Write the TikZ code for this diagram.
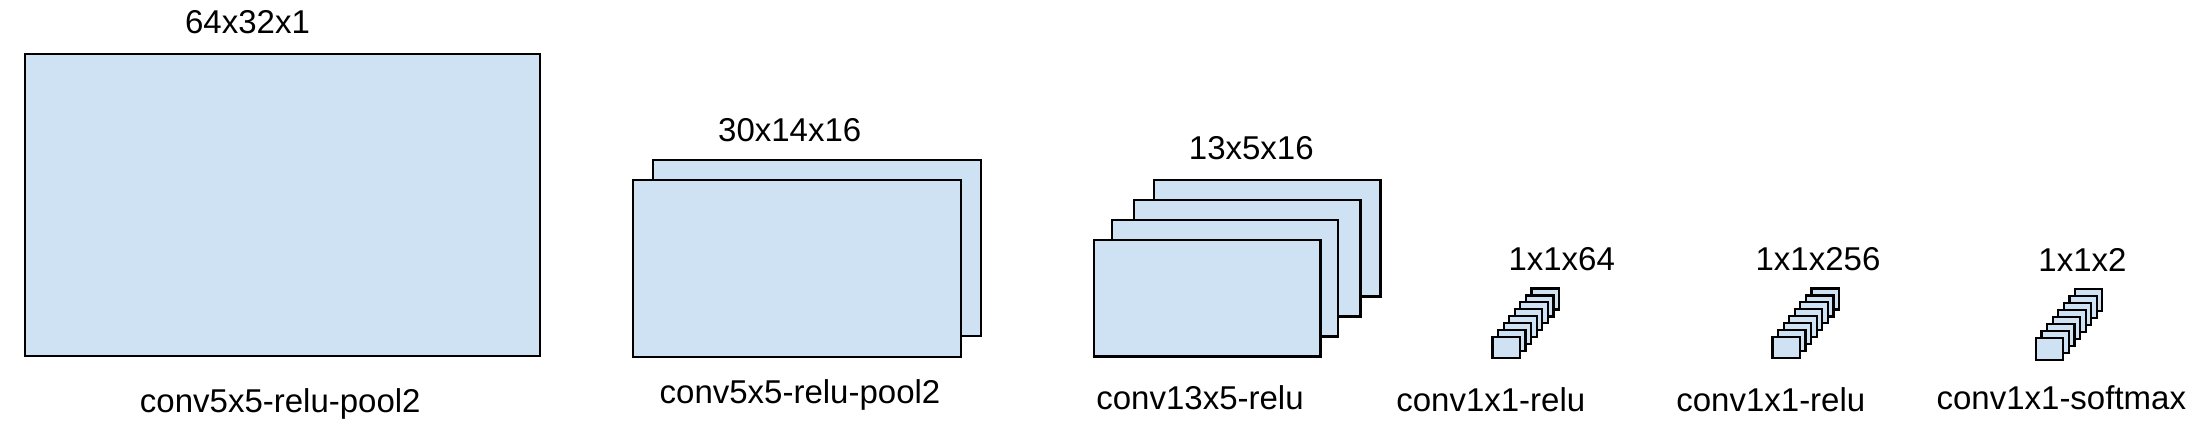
\documentclass[tikz,border=0pt]{standalone}
\usepackage{fontspec}
\setmainfont{Liberation Sans}
\definecolor{fmap}{HTML}{CFE2F3}
\begin{document}
\begin{tikzpicture}[x=0.5pt,y=-0.5pt,
  fm/.style={draw=black,fill=fmap,line width=1.1pt},
  fmsmall/.style={draw=black,fill=fmap,line width=1.1pt},
  lbl/.style={anchor=base,inner sep=0pt,font=\fontsize{16.5pt}{19.5pt}\selectfont}]
\useasboundingbox (0,0) rectangle (2194,426);
% layer 1
\draw[fm] (25,54) rectangle (540,355.7);
\node[lbl] (t1) at (247.5,34) {64x32x1};
\node[lbl] (b1) at (280.3,412.7) {conv5x5-relu-pool2};
% layer 2
\draw[fm] (653.3,160) rectangle (980.7,336);
\draw[fm] (633.3,180) rectangle (960.7,356.7);
\node[lbl] (t2) at (789.7,141.7) {30x14x16};
\node[lbl] (b2) at (800,404) {conv5x5-relu-pool2};
% layer 3
\foreach \x/\y in {1154/180,1134/200,1111.7/220,1094/240}
  \draw[fm] (\x,\y) rectangle ++(226.5,116.5);
\node[lbl] (t3) at (1251.3,160) {13x5x16};
\node[lbl] (b3) at (1200,410) {conv13x5-relu};
% layer 4
\foreach \i in {7,6,...,0}
  \draw[fmsmall] ({1492.5+5.57*\i},{337-6.93*\i}) rectangle ++(27.5,21);
\node[lbl] (t4) at (1561.7,270.7) {1x1x64};
\node[lbl] (b4) at (1490.8,411.7) {conv1x1-relu};
% layer 5
\foreach \i in {7,6,...,0}
  \draw[fmsmall] ({1772.5+5.57*\i},{337-6.93*\i}) rectangle ++(27.5,21);
\node[lbl] (t5) at (1818,271) {1x1x256};
\node[lbl] (b5) at (1770.8,411.7) {conv1x1-relu};
% layer 6
\foreach \i in {7,6,...,0}
  \draw[fmsmall] ({2036+5.57*\i},{338.3-7*\i}) rectangle ++(27.3,21.7);
\node[lbl] (t6) at (2082.5,272) {1x1x2};
\node[lbl] (b6) at (2061.3,409.5) {conv1x1-softmax};
\end{tikzpicture}
\end{document}
